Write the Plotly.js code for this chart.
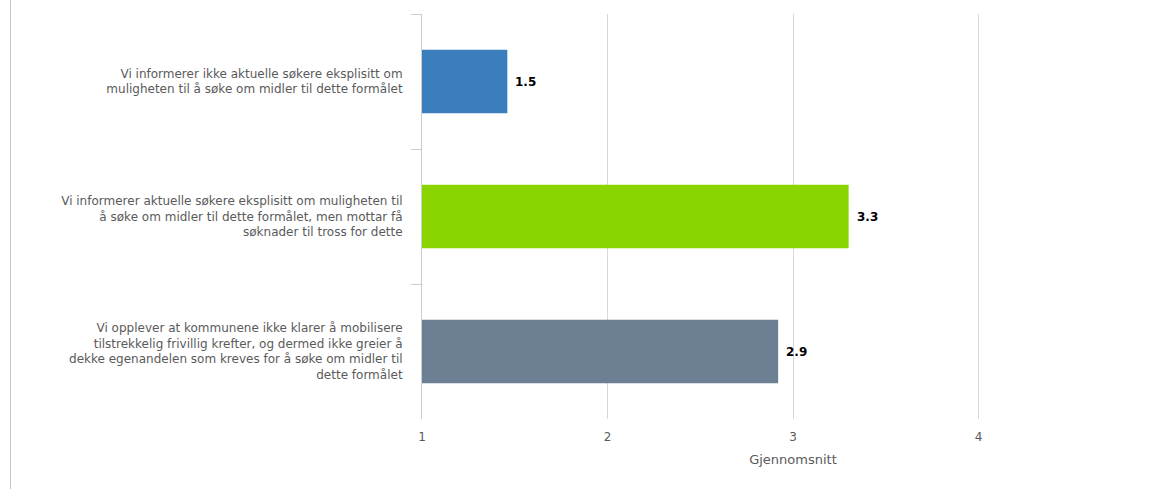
<!DOCTYPE html>
<html>
<head>
<meta charset="utf-8">
<script src="https://cdn.plot.ly/plotly-3.0.1.min.js"></script>
<style>
html,body{margin:0;padding:0;overflow:hidden;background:#fff;width:1158px;height:489px;}
#wrap{position:relative;width:1158px;height:489px;overflow:hidden;}
#chart{position:absolute;left:0;top:0;width:1170px;height:489px;}
#edge{position:absolute;left:10px;top:0;width:0;height:489px;border-left:1px solid #c4c4c4;}
</style>
</head>
<body>
<div id="wrap"><div id="chart"></div><div id="edge"></div></div>
<script>
const categories = [
  "Vi informerer ikke aktuelle søkere eksplisitt om<br>muligheten til å søke om midler til dette formålet",
  "Vi informerer aktuelle søkere eksplisitt om muligheten til<br>å søke om midler til dette formålet, men mottar få<br>søknader til tross for dette",
  "Vi opplever at kommunene ikke klarer å mobilisere<br>tilstrekkelig frivillig krefter, og dermed ikke greier å<br>dekke egenandelen som kreves for å søke om midler til<br>dette formålet"
];
const values = [1.46, 3.30, 2.92];
const valueLabels = ["1.5", "3.3", "2.9"];
const barColors = ["#3a7fbc", "#8ad500", "#6c7f93"];
const xTicks = [1, 2, 3, 4, 5];
const xAxisTitle = "Gjennomsnitt";

const trace = {
  type: "bar",
  orientation: "h",
  y: categories,
  x: values.map(v => v - 1),
  base: 1,
  marker: {color: barColors, line: {width: 0}},
  hoverinfo: "none"
};

const annotations = values.map((v, i) => ({
  x: v, y: categories[i], xref: "x", yref: "y",
  text: "<b>" + valueLabels[i] + "</b>",
  showarrow: false, xanchor: "left", xshift: 6,
  font: {family: "DejaVu Sans, Verdana, sans-serif", size: 12, color: "#000"}
}));

const layout = {
  width: 1170, height: 489,
  margin: {l: 422, r: 6, t: 14, b: 70, pad: 0},
  paper_bgcolor: "#fff", plot_bgcolor: "#fff",
  showlegend: false,
  bargap: 0.53,
  font: {family: "DejaVu Sans, Verdana, sans-serif", size: 12, color: "#5a5a5a"},
  xaxis: {
    range: [1, 5], tickvals: xTicks, ticktext: xTicks.map(String),
    showgrid: true, gridcolor: "#d8d8d8", gridwidth: 1,
    zeroline: false, showline: false, ticks: "",
    tickfont: {size: 12, color: "#5a5a5a"},
    ticklabelstandoff: 9,
    title: {text: xAxisTitle, font: {size: 13, color: "#5a5a5a"}, standoff: 11},
    fixedrange: true
  },
  yaxis: {
    autorange: "reversed", type: "category",
    showline: true, linecolor: "#c8cdd4", linewidth: 1,
    ticks: "outside", tickson: "boundaries", ticklen: 10, tickcolor: "#c0d0e0", tickwidth: 1,
    showgrid: false, zeroline: false,
    tickfont: {size: 12, color: "#5a5a5a"},
    ticklabelstandoff: 16,
    fixedrange: true
  },
  annotations: annotations
};

Plotly.newPlot("chart", [trace], layout, {displayModeBar: false, staticPlot: true});
</script>
</body>
</html>
